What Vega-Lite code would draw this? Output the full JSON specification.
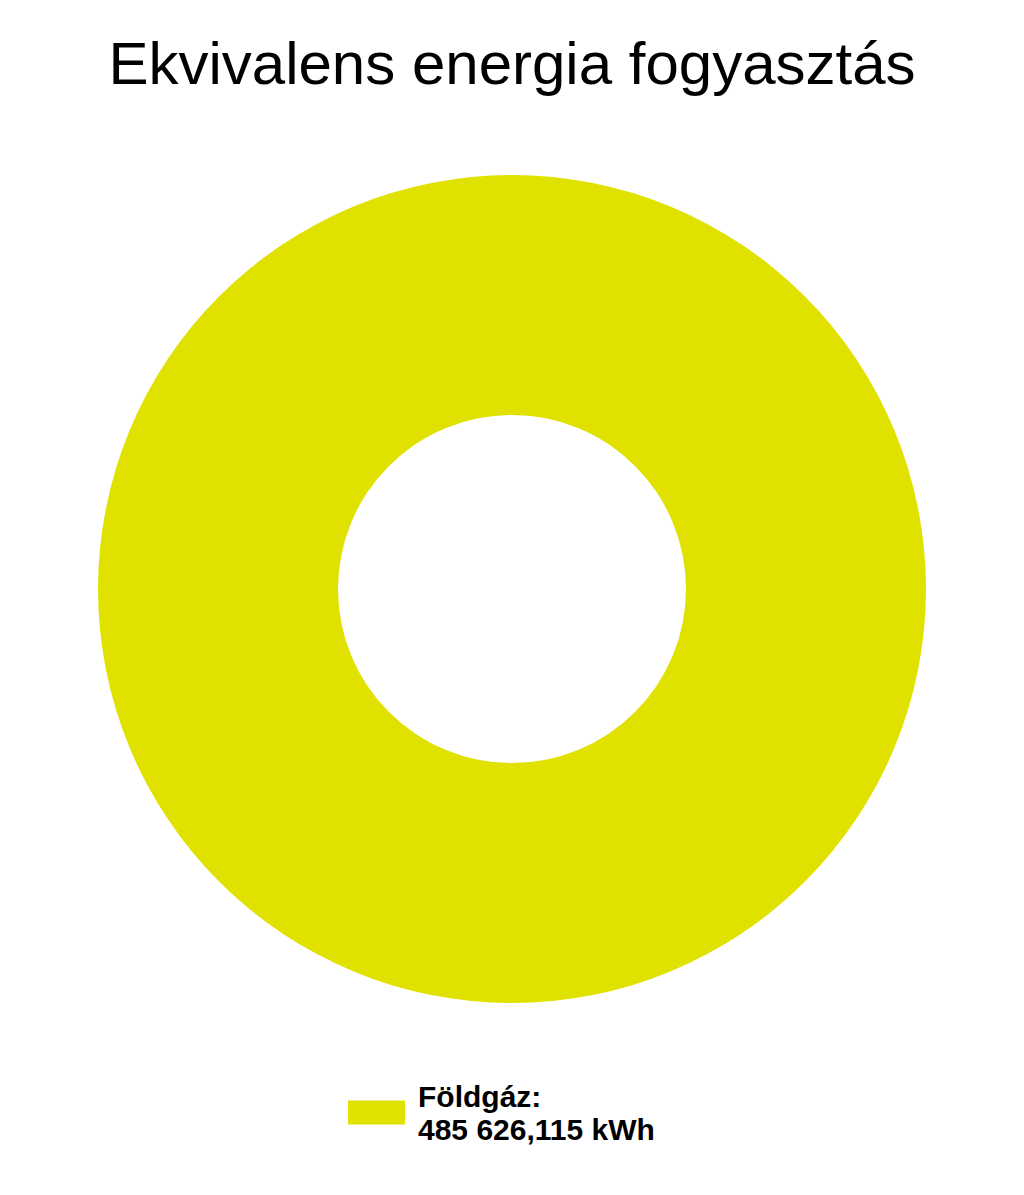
{
  "$schema": "https://vega.github.io/schema/vega-lite/v6.json",
  "description": "Donut chart of equivalent energy consumption, a single category (natural gas).",
  "title": {
    "text": "Ekvivalens energia fogyasztás",
    "font": "Liberation Sans",
    "fontSize": 60,
    "fontWeight": "normal",
    "color": "#000000",
    "anchor": "middle",
    "offset": 20
  },
  "width": 1024,
  "height": 944,
  "padding": {"top": 36, "left": 0, "right": 0, "bottom": 0},
  "background": "#ffffff",
  "view": {"stroke": null},
  "data": {
    "values": [
      {"energia": "Földgáz", "kWh": 485626.115}
    ]
  },
  "mark": {"type": "arc", "outerRadius": 414, "innerRadius": 174},
  "encoding": {
    "theta": {"field": "kWh", "type": "quantitative", "stack": true},
    "color": {
      "field": "energia",
      "type": "nominal",
      "scale": {"range": ["#e1e100"]},
      "legend": {
        "title": null,
        "orient": "none",
        "legendX": 348,
        "legendY": 967,
        "symbolType": "M-1,-0.42H1V0.42H-1Z",
        "symbolSize": 3249,
        "symbolStrokeWidth": 0,
        "labelFont": "Liberation Sans",
        "labelFontSize": 30,
        "labelFontWeight": "bold",
        "labelColor": "#000000",
        "labelLimit": 400,
        "labelOffset": 13,
        "labelBaseline": "bottom",
        "labelExpr": "[datum.label + ':', '485 626,115 kWh']"
      }
    }
  },
  "config": {
    "style": {"guide-label": {"lineHeight": 33}}
  }
}
